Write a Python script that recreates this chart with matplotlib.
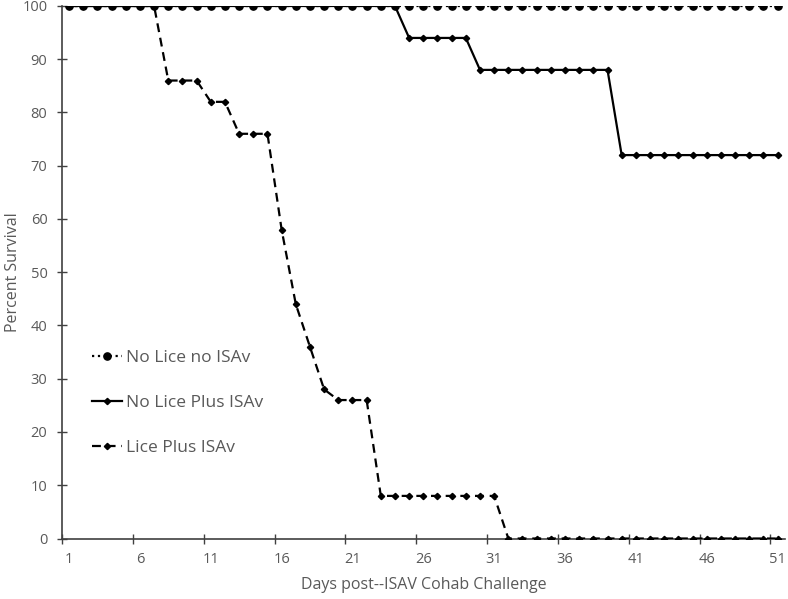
import numpy as np
import matplotlib.pyplot as plt
from matplotlib.ticker import FixedLocator

plt.rcParams['font.family'] = ['Open Sans', 'DejaVu Sans']

# Data
days = np.arange(1, 52)
no_lice_no_isav = [100] * 51
no_lice_plus_isav = [100] * 24 + [94] * 5 + [88] * 10 + [72] * 12
lice_plus_isav = ([100] * 7 + [86] * 3 + [82] * 2 + [76] * 3 +
                  [58, 44, 36, 28, 26, 26, 26] + [8] * 9 + [0] * 20)

labels = ["No Lice no ISAv", "No Lice Plus ISAv", "Lice Plus ISAv"]

gray = "#595959"
axis_col = "#404040"

fig = plt.figure(figsize=(7.88, 5.99), dpi=100)
ax = fig.add_axes([0.0787, 0.101, 0.917, 0.889])

ax.plot(days, no_lice_plus_isav, color="black", lw=1.6, ls="-",
        marker="D", ms=3.2, label=labels[1], zorder=3)
ax.plot(days, lice_plus_isav, color="black", lw=1.6, ls=(0, (4, 2.6)),
        marker="D", ms=3.2, label=labels[2], zorder=3)
ax.plot(days, no_lice_no_isav, color="black", lw=1.6, ls=":",
        marker="o", ms=5.2, label=labels[0], zorder=4)

ax.set_xlim(0.5, 51.5)
ax.set_ylim(0, 100)

# Category style axis: labels at centres, tick marks between categories
ax.set_xticks(np.arange(1, 52, 5))
ax.xaxis.set_minor_locator(FixedLocator(np.arange(0.5, 51, 5)))
ax.tick_params(axis="x", which="major", length=0, pad=10, labelsize=10.5, labelcolor=gray)
ax.tick_params(axis="x", which="minor", length=7, direction="inout", color=axis_col, width=1)
ax.set_yticks(np.arange(0, 101, 10))
ax.tick_params(axis="y", length=7, direction="inout", pad=7, labelsize=10.5,
               labelcolor=gray, color=axis_col, width=1)

for s in ["top", "right"]:
    ax.spines[s].set_visible(False)
for s in ["left", "bottom"]:
    ax.spines[s].set_color(axis_col)
    ax.spines[s].set_linewidth(1.2)

ax.set_xlabel("Days post--ISAV Cohab Challenge", fontsize=11.5, color=gray, labelpad=7)
ax.set_ylabel("Percent Survival", fontsize=11.5, color=gray, labelpad=1)

handles, labs = ax.get_legend_handles_labels()
order = [2, 0, 1]
leg = ax.legend([handles[i] for i in order], [labs[i] for i in order],
                loc="upper left", bbox_to_anchor=(92 / 788, 1 - 350 / 599),
                bbox_transform=fig.transFigure, frameon=False, fontsize=12.5,
                handlelength=1.75, handletextpad=0.2, labelspacing=1.65,
                borderpad=0, borderaxespad=0)
for t in leg.get_texts():
    t.set_color(gray)

fig.savefig("out.png", dpi=100)
